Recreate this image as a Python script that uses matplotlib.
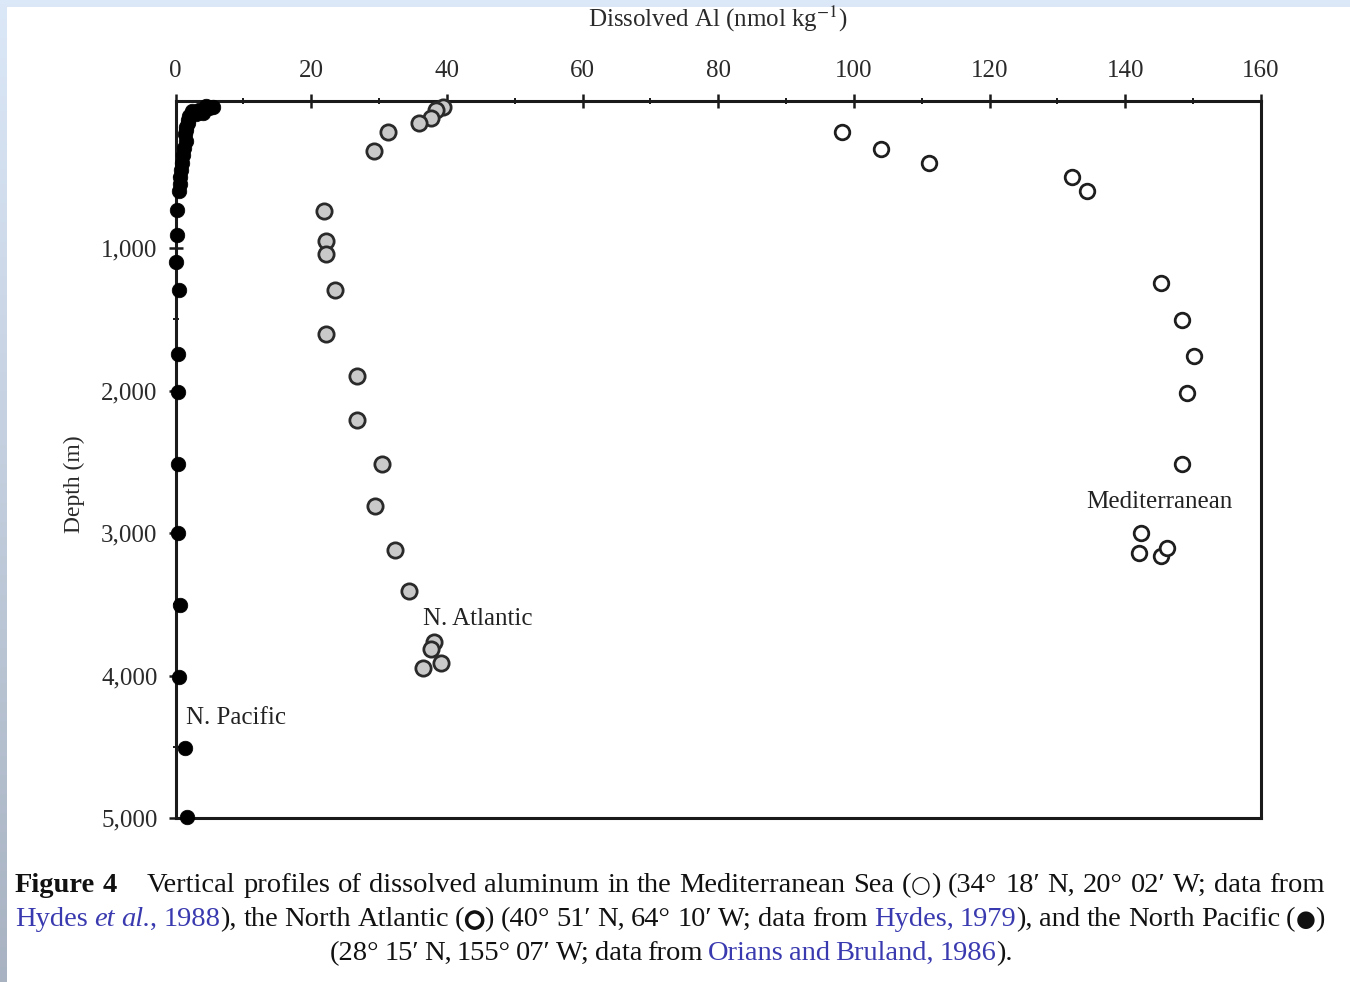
import matplotlib
matplotlib.use("Agg")
import matplotlib.pyplot as plt
import matplotlib.patheffects as pe
import numpy as np
from matplotlib.ticker import FixedLocator, FuncFormatter

plt.rcParams['font.family'] = ['Liberation Serif', 'DejaVu Serif', 'DejaVu Sans']
plt.rcParams['mathtext.fontset'] = 'stix'

# ---------------- data ----------------
med_al = [98.2, 104.0, 111.1, 132.1, 134.3, 145.2, 148.3, 150.1, 149.1, 148.3,
          142.3, 142.0, 145.2, 146.1]
med_depth = [186, 305, 404, 502, 600, 1246, 1505, 1758, 2018, 2516,
             3000, 3140, 3161, 3105]

atl_al = [39.4, 38.4, 37.7, 35.9, 31.3, 29.3, 21.9, 22.2, 22.2, 23.5, 22.2,
          26.7, 26.7, 30.4, 29.4, 32.4, 34.4, 38.1, 37.7, 36.5, 39.1]
atl_depth = [10, 32, 88, 123, 186, 320, 740, 951, 1042, 1295, 1604,
             1898, 2207, 2516, 2811, 3119, 3407, 3765, 3814, 3947, 3912]

pac_al = [4.5, 5.5, 5.0, 3.5, 2.5, 4.0, 3.0, 2.0, 1.8, 1.8, 1.5, 1.6, 1.4,
          1.5, 1.3, 1.1, 0.9, 0.8, 0.7, 0.6, 0.5, 0.2, 0.2, 0.1, 0.5, 0.4,
          0.4, 0.4, 0.4, 0.7, 0.5, 1.4, 1.7]
pac_depth = [5, 10, 20, 30, 40, 50, 60, 75, 100, 125, 150, 175, 200,
             250, 300, 350, 400, 450, 500, 550, 600, 733, 909, 1098, 1295, 1744,
             2011, 2516, 3000, 3505, 4011, 4509, 4993]

x_ticks = [0, 20, 40, 60, 80, 100, 120, 140, 160]
y_ticks = [1000, 2000, 3000, 4000, 5000]

x_label = r'Dissolved Al (nmol kg$^{-1}$)'
y_label = 'Depth (m)'
labels = [('N. Pacific', 1.6, 4300), ('N. Atlantic', 36.5, 3600),
          ('Mediterranean', 134.3, 2780)]

# ---------------- figure ----------------
W, H = 1350, 982
fig = plt.figure(figsize=(W / 100, H / 100), dpi=100)
fig.patch.set_facecolor('#dbe8f6')

# background: bluish frame with grey-blue left edge
bg = fig.add_axes([0, 0, 1, 1], zorder=-10)
grad = np.linspace(0, 1, 256)[:, None]
top_c = np.array([0.86, 0.91, 0.97])
bot_c = np.array([0.66, 0.70, 0.76])
img = top_c * (1 - grad[..., None]) + bot_c * grad[..., None]
img = np.repeat(img, 2, axis=1)
bg.imshow(img, extent=[0, 1, 0, 1], aspect='auto', origin='upper')
bg.add_patch(plt.Rectangle((7 / W, 0), 1, 1 - 7 / H, transform=bg.transAxes,
                           facecolor='white', edgecolor='none'))
bg.set_xlim(0, 1); bg.set_ylim(0, 1)
bg.axis('off')

ax = fig.add_axes([175.5 / W, 1 - 818 / H, (1261 - 175.5) / W, (818 - 101) / H])
ax.set_facecolor('white')
ax.set_xlim(0, 160)
ax.set_ylim(5000, -32)

ax.plot(med_al, med_depth, 'o', ms=10.5, mfc='white', mec='#1e1e1e', mew=2.0,
        clip_on=False, zorder=3)
ax.plot(atl_al, atl_depth, 'o', ms=11, mfc='#c9c9c9', mec='#2a2a2a', mew=2.0,
        clip_on=False, zorder=3)
ax.plot(pac_al, pac_depth, 'o', ms=10.5, mfc='black', mec='black', mew=0.5,
        clip_on=False, zorder=4)

for sp in ax.spines.values():
    sp.set_linewidth(2.2)
    sp.set_color('#1a1a1a')

ax.xaxis.set_ticks_position('top')
ax.xaxis.set_label_position('top')
ax.set_xticks(x_ticks)
ax.xaxis.set_minor_locator(FixedLocator([10, 30, 50, 70, 90, 110, 130, 150]))
ax.set_yticks(y_ticks)
ax.yaxis.set_minor_locator(FixedLocator([500, 1500, 2500, 3500, 4500]))
ax.yaxis.set_major_formatter(FuncFormatter(lambda v, p: f'{int(v):,}'))
ax.tick_params(axis='both', which='major', direction='inout', length=10,
               width=1.8, colors='#1a1a1a', labelsize=18, labelcolor='#2a2a2a')
ax.tick_params(axis='x', which='major', pad=9)
ax.tick_params(axis='y', which='major', pad=8)
ax.tick_params(axis='both', which='minor', direction='inout', length=5,
               width=1.4, colors='#1a1a1a')
ax.tick_params(right=False, bottom=False, which='both')

ax.set_xlabel(x_label, fontsize=18, color='#2a2a2a', labelpad=24)
ax.set_ylabel(y_label, fontsize=17, color='#2a2a2a')
ax.yaxis.set_label_coords(-0.083, 0.466)

for txt, xv, yv in labels:
    ax.text(xv, yv, txt, fontsize=18, color='#222222', ha='left', va='center')

# ---------------- caption ----------------
BLACK = '#111111'
BLUE = '#3a3ab0'

def P(text, color=BLACK, weight='normal', style='normal', family=None, scale=1.0,
      thick=False):
    return dict(text=text, color=color, weight=weight, style=style, family=family,
                scale=scale, thick=thick)

SYM = ['DejaVu Sans']

line1 = [[P('Figure', weight='bold')], [P('4', weight='bold')], None,
         [P('Vertical')], [P('profiles')], [P('of')], [P('dissolved')],
         [P('aluminum')], [P('in')], [P('the')], [P('Mediterranean')], [P('Sea')],
         [P('('), P('○', family=SYM, scale=0.8), P(')')], [P('(34°')], [P('18′')],
         [P('N,')], [P('20°')], [P('02′')], [P('W;')], [P('data')], [P('from')]]
line2 = [[P('Hydes', BLUE)], [P('et', BLUE, style='italic')],
         [P('al.', BLUE, style='italic'), P(',', BLUE)],
         [P('1988', BLUE), P('),')], [P('the')], [P('North')], [P('Atlantic')],
         [P('('), P('○', family=SYM, scale=0.8, thick=True), P(')')], [P('(40°')],
         [P('51′')], [P('N,')], [P('64°')], [P('10′')], [P('W;')], [P('data')],
         [P('from')], [P('Hydes,', BLUE)], [P('1979', BLUE), P('),')], [P('and')],
         [P('the')], [P('North')], [P('Pacific')],
         [P('('), P('●', family=SYM, scale=0.8), P(')')]]
line3 = [[P('(28°')], [P('15′')], [P('N,')], [P('155°')], [P('07′')], [P('W;')],
         [P('data')], [P('from')], [P('Orians', BLUE)], [P('and', BLUE)],
         [P('Bruland,', BLUE)], [P('1986', BLUE), P(').')]]

FS = 20.5
renderer = fig.canvas.get_renderer()

def make_words(words, ypix):
    out = []
    for w in words:
        if w is None:
            out.append(None)
            continue
        pieces = []
        for p in w:
            kw = dict(fontsize=FS * p['scale'], color=p['color'],
                      fontweight=p['weight'], fontstyle=p['style'],
                      ha='left', va='baseline')
            if p['family'] is not None:
                kw['family'] = p['family']
            t = fig.text(0, 1 - ypix / H, p['text'], **kw)
            if p['thick']:
                t.set_path_effects([pe.withStroke(linewidth=1.6,
                                                  foreground=p['color'])])
            pieces.append(t)
        out.append(pieces)
    return out

def width_px(pieces):
    return sum(t.get_window_extent(renderer).width for t in pieces)

def place(words, x0, x1=None, space=None, extra=22):
    real = [w for w in words if w is not None]
    widths = [width_px(w) for w in real]
    n_extra = sum(1 for w in words if w is None)
    if space is None:
        space = (x1 - x0 - sum(widths) - n_extra * extra) / (len(real) - 1)
    x = x0
    i = 0
    for w in words:
        if w is None:
            x += extra
            continue
        xx = x
        for t in w:
            t.set_x(xx / W)
            xx += t.get_window_extent(renderer).width
        x += widths[i] + space
        i += 1
    return x

fig.canvas.draw()
w1 = make_words(line1, 892)
w2 = make_words(line2, 926)
w3 = make_words(line3, 960)
fig.canvas.draw()
place(w1, 15, 1325)
place(w2, 15, 1325)
sp = 5.2
tot = sum(width_px(w) for w in w3) + sp * (len(w3) - 1)
place(w3, (W - tot) / 2 - 4, space=sp)

fig.savefig('out.png', dpi=100, facecolor=fig.get_facecolor())
